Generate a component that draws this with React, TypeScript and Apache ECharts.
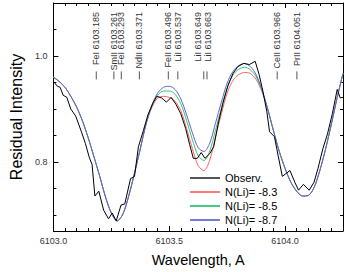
import React, { useEffect, useRef } from 'react';
import * as echarts from 'echarts';

// Synthetic spectra grid (wavelength, A)
const synthX = [
  6103.000, 6103.025, 6103.050, 6103.075, 6103.100, 6103.125, 6103.150, 6103.175, 6103.200, 6103.225,
  6103.250, 6103.275, 6103.300, 6103.325, 6103.350, 6103.375, 6103.400, 6103.425, 6103.450, 6103.475,
  6103.500, 6103.525, 6103.550, 6103.575, 6103.600, 6103.625, 6103.650, 6103.675, 6103.700, 6103.725,
  6103.750, 6103.775, 6103.800, 6103.825, 6103.850, 6103.875, 6103.900, 6103.925, 6103.950, 6103.975,
  6104.000, 6104.025, 6104.050, 6104.075, 6104.100, 6104.125, 6104.150, 6104.175, 6104.200, 6104.225,
  6104.250,
];
// N(Li) = -8.7
const blueY = [
  0.960, 0.952, 0.941, 0.924, 0.904, 0.878, 0.846, 0.810, 0.773, 0.734,
  0.704, 0.689, 0.702, 0.736, 0.779, 0.825, 0.872, 0.907, 0.930, 0.941,
  0.943, 0.937, 0.919, 0.889, 0.855, 0.827, 0.820, 0.836, 0.874, 0.913,
  0.949, 0.971, 0.982, 0.986, 0.980, 0.965, 0.937, 0.900, 0.859, 0.820,
  0.788, 0.762, 0.745, 0.736, 0.737, 0.752, 0.784, 0.825, 0.872, 0.922,
  0.967,
];
// N(Li) = -8.5
const greenY = [
  0.960, 0.952, 0.941, 0.924, 0.904, 0.878, 0.846, 0.810, 0.773, 0.734,
  0.704, 0.689, 0.702, 0.736, 0.779, 0.825, 0.872, 0.905, 0.926, 0.934,
  0.934, 0.928, 0.910, 0.878, 0.842, 0.812, 0.803, 0.821, 0.861, 0.902,
  0.940, 0.964, 0.975, 0.979, 0.974, 0.961, 0.935, 0.900, 0.859, 0.820,
  0.788, 0.762, 0.745, 0.736, 0.737, 0.752, 0.784, 0.825, 0.872, 0.922,
  0.967,
];
// N(Li) = -8.3
const redY = [
  0.960, 0.952, 0.941, 0.924, 0.904, 0.878, 0.846, 0.810, 0.773, 0.734,
  0.704, 0.689, 0.702, 0.736, 0.779, 0.825, 0.872, 0.903, 0.921, 0.924,
  0.922, 0.915, 0.897, 0.863, 0.825, 0.793, 0.784, 0.804, 0.848, 0.891,
  0.930, 0.954, 0.965, 0.969, 0.967, 0.956, 0.933, 0.900, 0.859, 0.820,
  0.788, 0.762, 0.745, 0.736, 0.737, 0.752, 0.784, 0.825, 0.872, 0.922,
  0.967,
];

// Observed spectrum
const obsX = [
  6103.000, 6103.017, 6103.029, 6103.042, 6103.058, 6103.075, 6103.096, 6103.121, 6103.138, 6103.154,
  6103.167, 6103.179, 6103.196, 6103.217, 6103.238, 6103.254, 6103.271, 6103.292, 6103.308, 6103.333,
  6103.350, 6103.367, 6103.388, 6103.408, 6103.429, 6103.446, 6103.467, 6103.488, 6103.508, 6103.529,
  6103.550, 6103.571, 6103.588, 6103.604, 6103.621, 6103.638, 6103.654, 6103.675, 6103.692, 6103.713,
  6103.733, 6103.754, 6103.775, 6103.796, 6103.821, 6103.846, 6103.871, 6103.888, 6103.904, 6103.921,
  6103.933, 6103.954, 6103.971, 6103.988, 6104.021, 6104.042, 6104.058, 6104.079, 6104.104, 6104.125,
  6104.142, 6104.163, 6104.183, 6104.204, 6104.225, 6104.238, 6104.250,
];
const obsY = [
  0.952, 0.943, 0.941, 0.926, 0.922, 0.900, 0.887, 0.857, 0.835, 0.810,
  0.795, 0.736, 0.745, 0.709, 0.693, 0.704, 0.689, 0.719, 0.721, 0.769,
  0.773, 0.829, 0.859, 0.889, 0.911, 0.924, 0.921, 0.913, 0.922, 0.909,
  0.891, 0.863, 0.833, 0.807, 0.807, 0.818, 0.807, 0.816, 0.829, 0.876,
  0.913, 0.945, 0.967, 0.980, 0.986, 0.984, 0.990, 0.965, 0.934, 0.896,
  0.857, 0.848, 0.810, 0.773, 0.784, 0.762, 0.747, 0.758, 0.747, 0.762,
  0.788, 0.825, 0.853, 0.891, 0.937, 0.921, 0.922,
];

// Line identifications
const lineNames = ['FeI', 'SmII', 'FeI', 'NdII', 'FeII', 'LiI', 'LiI', 'LiI', 'CeII', 'PrII'];
const lineWaves = [6103.185, 6103.261, 6103.293, 6103.371, 6103.496, 6103.537, 6103.649, 6103.663, 6103.966, 6104.051];
// horizontal nudge (px) of a label away from its tick, for the blended Li pair
const labelNudge = [0, 0, 0, 0, 0, 0, -6, 1, 0, 0];

// Axis ticks
const xMajorTicks = [6103.0, 6103.5, 6104.0];
const xMinorTicks = [
  6103.05, 6103.1, 6103.15, 6103.2, 6103.25, 6103.3, 6103.35, 6103.4, 6103.45,
  6103.55, 6103.6, 6103.65, 6103.7, 6103.75, 6103.8, 6103.85, 6103.9, 6103.95,
  6104.05, 6104.1, 6104.15, 6104.2,
];
const yMajorTicks = [0.8, 1.0];
const yMinorTicks = [0.7, 0.75, 0.85, 0.9, 0.95, 1.05];

const seriesNames = ['Observ.', 'N(Li)= -8.3', 'N(Li)= -8.5', 'N(Li)= -8.7'];
const seriesColors = ['#000000', '#ff6262', '#33c47a', '#6262d2'];
const legendColors = ['#555555', '#ff7a7a', '#45c888', '#7a7ad8'];

const FONT = '"Liberation Sans", Arial, Helvetica, sans-serif';
const X_MIN = 6103.0;
const X_MAX = 6104.25;
const Y_MIN = 0.67;
const Y_MAX = 1.1;

export default function App() {
  const ref = useRef<HTMLDivElement>(null);

  useEffect(() => {
    if (!ref.current) return;
    const chart = echarts.init(ref.current, undefined, { renderer: 'svg' });
    const axisLine = { show: true, onZero: false, lineStyle: { color: '#000', width: 1 } };
    const tickLine = { color: '#000', width: 1 };

    const xAx = (position: string, major: boolean, withLabels: boolean) => ({
      type: 'value',
      position,
      min: X_MIN,
      max: X_MAX,
      axisLine: major ? axisLine : { show: false },
      axisTick: {
        show: true,
        inside: true,
        length: major ? 5 : 3,
        customValues: major ? xMajorTicks : xMinorTicks,
        lineStyle: tickLine,
      },
      axisLabel: withLabels
        ? {
            show: true,
            customValues: xMajorTicks,
            formatter: (v: number) => v.toFixed(1),
            fontSize: 9,
            color: '#333',
            margin: 5,
            fontFamily: FONT,
          }
        : { show: false },
      splitLine: { show: false },
      ...(withLabels
        ? {
            name: 'Wavelength, A',
            nameLocation: 'middle',
            nameGap: 21,
            nameTextStyle: { fontSize: 14.5, color: '#000', fontFamily: FONT },
          }
        : {}),
    });

    const yAx = (position: string, major: boolean, withLabels: boolean) => ({
      type: 'value',
      position,
      min: Y_MIN,
      max: Y_MAX,
      axisLine: major ? axisLine : { show: false },
      axisTick: {
        show: true,
        inside: true,
        length: major ? 5 : 3,
        customValues: major ? yMajorTicks : yMinorTicks,
        lineStyle: tickLine,
      },
      axisLabel: withLabels
        ? {
            show: true,
            customValues: yMajorTicks,
            formatter: (v: number) => v.toFixed(1),
            fontSize: 9,
            color: '#333',
            margin: 6,
            fontFamily: FONT,
          }
        : { show: false },
      splitLine: { show: false },
      ...(withLabels
        ? {
            name: 'Residual Intensity',
            nameLocation: 'middle',
            nameGap: 25,
            nameTextStyle: { fontSize: 16, color: '#000', fontFamily: FONT },
          }
        : {}),
    });

    const lineSeries = (name: string, xs: number[], ys: number[], color: string, smooth: boolean) => ({
      name,
      type: 'line',
      xAxisIndex: 0,
      yAxisIndex: 0,
      data: xs.map((x, i) => [x, ys[i]]),
      symbol: 'none',
      showSymbol: false,
      smooth: smooth ? 0.3 : false,
      lineStyle: { color, width: 1 },
      itemStyle: { color },
    });

    chart.setOption({
      animation: false,
      backgroundColor: '#fff',
      grid: { left: 43, right: 3, top: 3, bottom: 39 },
      legend: {
        data: seriesNames.map((n, i) => ({ name: n, icon: 'rect', itemStyle: { color: legendColors[i] } })),
        orient: 'vertical',
        left: 190,
        top: 171,
        itemWidth: 30,
        itemHeight: 2,
        itemGap: 0,
        padding: 0,
        textStyle: { fontSize: 11, color: '#000', fontFamily: FONT, lineHeight: 14 },
      },
      xAxis: [xAx('bottom', true, true), xAx('bottom', false, false), xAx('top', true, false), xAx('top', false, false)],
      yAxis: [yAx('left', true, true), yAx('left', false, false), yAx('right', true, false), yAx('right', false, false)],
      series: [
        lineSeries(seriesNames[1], synthX, redY, seriesColors[1], true),
        lineSeries(seriesNames[2], synthX, greenY, seriesColors[2], true),
        lineSeries(seriesNames[3], synthX, blueY, seriesColors[3], true),
        lineSeries(seriesNames[0], obsX, obsY, seriesColors[0], false),
        {
          type: 'custom',
          name: 'lines',
          xAxisIndex: 0,
          yAxisIndex: 0,
          data: lineWaves.map((w) => [w, 1.0]),
          silent: true,
          renderItem: (params: any, api: any) => {
            const i = params.dataIndex;
            const w = api.value(0);
            const top = api.coord([w, 1.083]);
            const t1 = api.coord([w, 0.971]);
            const t2 = api.coord([w, 0.956]);
            return {
              type: 'group',
              children: [
                {
                  type: 'text',
                  x: top[0] + labelNudge[i],
                  y: top[1],
                  rotation: Math.PI / 2,
                  style: {
                    text: `${lineNames[i]} ${lineWaves[i].toFixed(3)}`,
                    fill: '#333',
                    fontSize: 9,
                    fontFamily: FONT,
                    align: 'right',
                    verticalAlign: 'middle',
                  },
                },
                {
                  type: 'line',
                  shape: { x1: t1[0], y1: t1[1], x2: t2[0], y2: t2[1] },
                  style: { stroke: '#555', lineWidth: 1 },
                },
              ],
            };
          },
        },
      ],
    });
    return () => chart.dispose();
  }, []);

  return (
    <div
      ref={ref}
      style={{ position: 'fixed', left: 0, top: 0, width: 346, height: 272, background: '#fff' }}
    />
  );
}
